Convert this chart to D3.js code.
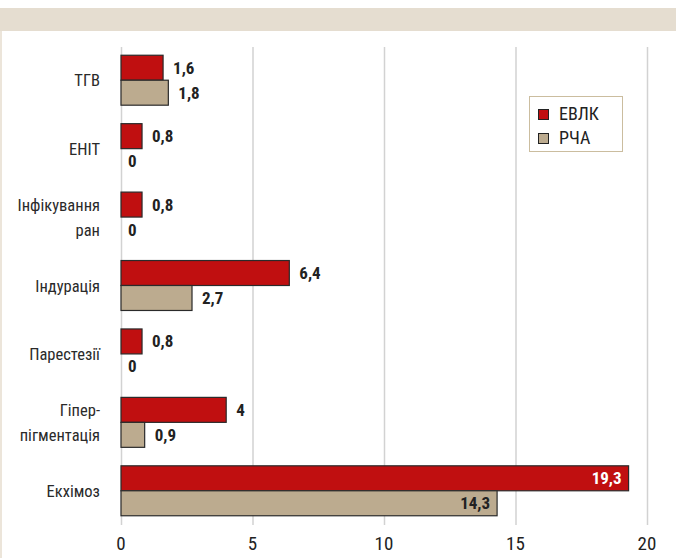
<!DOCTYPE html>
<html>
<head>
<meta charset="utf-8">
<script src="https://cdn.jsdelivr.net/npm/d3@7"></script>
<style>
  body { margin: 0; background: #fff; }
  svg { display: block; }
  text { font-family: "Liberation Sans Narrow", "Arial Narrow", "Roboto Condensed", sans-serif; }
</style>
</head>
<body>
<div id="chart"></div>
<script>
// categories (top to bottom), each may be split over two lines
const categories = ['ТГВ', 'ЕНІТ', 'Інфікування|ран', 'Індурація', 'Парестезії', 'Гіпер-|пігментація', 'Екхімоз']
const evlk = [1.6, 0.8, 0.8, 6.4, 0.8, 4, 19.3]
const rcha = [1.8, 0, 0, 2.7, 0, 0.9, 14.3]
const seriesNames = ['ЕВЛК', 'РЧА']
const xTicks = [0, 5, 10, 15, 20]

const width = 676
const height = 558
const colors = ['#c00f10', '#bcab8f']

const svg = d3.select('#chart').append('svg')
  .attr('width', width)
  .attr('height', height)

// frame: beige band on top, thin strip on the left
svg.append('rect').attr('x', 0).attr('y', 8).attr('width', width).attr('height', 23).attr('fill', '#e5ddd0')
svg.append('rect').attr('x', 0).attr('y', 31).attr('width', 2).attr('height', height - 31).attr('fill', '#ece5da')

const x = d3.scaleLinear().domain([0, 20]).range([121, 647])
const y = d3.scaleBand().domain(categories).range([46, 525]).paddingInner(0.27).paddingOuter(0.135)
const sub = d3.scaleBand().domain([0, 1]).range([0, y.bandwidth()])

// grid
svg.append('g').selectAll('line')
  .data(xTicks).enter().append('line')
  .attr('x1', d => x(d) + 0.5).attr('x2', d => x(d) + 0.5)
  .attr('y1', 47).attr('y2', 525)
  .attr('stroke', '#d2d2d2').attr('stroke-width', 1.5)

// axis labels
svg.append('g').selectAll('text')
  .data(xTicks).enter().append('text')
  .attr('x', d => x(d)).attr('y', 550)
  .attr('text-anchor', 'middle')
  .attr('font-size', 19).attr('fill', '#222')
  .text(d => d)

// category labels
const cat = svg.append('g').selectAll('text')
  .data(categories).enter().append('text')
  .attr('text-anchor', 'end')
  .attr('font-size', 16.5).attr('fill', '#2a2a2a')
cat.each(function(d) {
  const lines = d.split('|')
  const cy = y(d) + y.bandwidth() / 2
  const t = d3.select(this)
  lines.forEach((l, i) => {
    t.append('tspan')
      .attr('x', 100)
      .attr('y', cy + 6 + (i - (lines.length - 1) / 2) * 25)
      .text(l)
  })
})

// bars
const series = [evlk, rcha]
series.forEach((vals, s) => {
  const g = svg.append('g')
  g.selectAll('rect')
    .data(vals).enter().append('rect')
    .attr('x', x(0))
    .attr('y', (d, i) => y(categories[i]) + sub(s))
    .attr('width', d => x(d) - x(0))
    .attr('height', sub.bandwidth())
    .attr('fill', colors[s])
    .attr('stroke', d => d > 0 ? '#2a2a2a' : 'none')
    .attr('stroke-width', 1.2)

  g.selectAll('text')
    .data(vals).enter().append('text')
    .attr('x', d => d > 12 ? x(d) - 7 : x(d) + (d > 0 ? 10 : 7))
    .attr('y', (d, i) => y(categories[i]) + sub(s) + sub.bandwidth() / 2 + 6)
    .attr('text-anchor', d => d > 12 ? 'end' : 'start')
    .attr('font-size', 17).attr('font-weight', 'bold')
    .attr('fill', d => (d > 12 && s === 0) ? '#fff' : '#222')
    .text(d => String(d).replace('.', ','))
})

// legend
const lg = svg.append('g')
lg.append('rect').attr('x', 529.5).attr('y', 96.5).attr('width', 93).attr('height', 55)
  .attr('fill', '#fff').attr('stroke', '#cbbd9f').attr('stroke-width', 1)
seriesNames.forEach((n, i) => {
  lg.append('rect').attr('x', 538.5).attr('y', 109.5 + i * 24).attr('width', 10).attr('height', 10)
    .attr('fill', colors[i]).attr('stroke', '#222').attr('stroke-width', 1)
  lg.append('text').attr('x', 559).attr('y', 120 + i * 24)
    .attr('font-size', 18).attr('fill', '#222').text(n)
})
</script>
</body>
</html>
